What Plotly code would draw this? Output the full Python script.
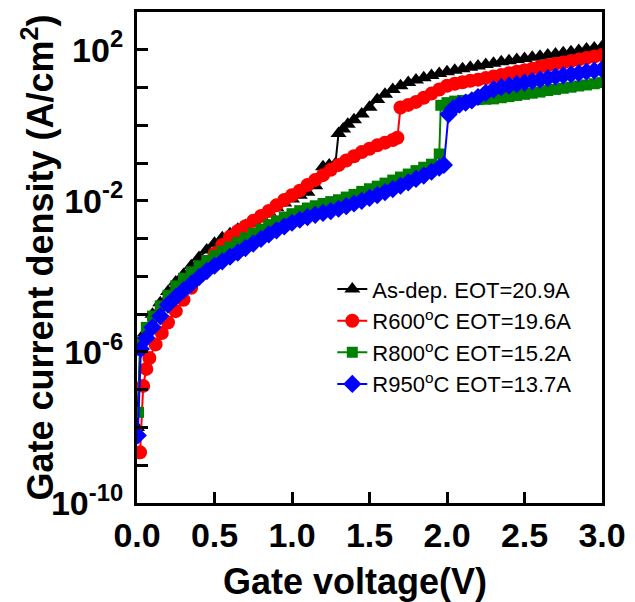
import plotly.graph_objects as go

# ---------------- data ----------------
asdep_v = [0.00, 0.02, 0.05, 0.10, 0.15, 0.20, 0.25, 0.30, 0.35, 0.40,
           0.45, 0.50, 0.55, 0.60, 0.65, 0.70, 0.75, 0.80, 0.85, 0.90,
           0.95, 1.00, 1.05, 1.10, 1.15, 1.18, 1.20, 1.24, 1.28, 1.30,
           1.33, 1.36, 1.40, 1.45, 1.50, 1.55, 1.60, 1.65, 1.70, 1.75,
           1.80, 1.85, 1.90, 1.95, 2.00, 2.05, 2.10, 2.15, 2.20, 2.25,
           2.30, 2.35, 2.40, 2.45, 2.50, 2.55, 2.60, 2.65, 2.70, 2.75,
           2.80, 2.85, 2.90, 2.95, 3.00]
asdep_j = [1.0e-8, 1.0e-6, 3.16e-6, 1.0e-5, 2.0e-5, 3.98e-5, 7.08e-5, 1.12e-4, 1.91e-4, 3.16e-4,
           5.01e-4, 7.59e-4, 1.05e-3, 1.35e-3, 1.78e-3, 2.24e-3, 2.95e-3, 3.8e-3, 5.01e-3, 6.61e-3,
           8.71e-3, 1.12e-2, 1.41e-2, 1.7e-2, 2.51e-2, 4.47e-2, 7.94e-2, 8.91e-2, 9.55e-2, 0.603,
           0.794, 1.07, 1.41, 2.0, 3.02, 4.79, 6.61, 8.91, 11.2, 13.5,
           15.8, 18.2, 20.9, 23.4, 26.3, 28.8, 31.6, 34.7, 37.2, 40.7,
           43.7, 47.9, 51.3, 55.0, 58.9, 63.1, 67.6, 72.4, 77.6, 83.2,
           89.1, 95.5, 105.0, 112.0, 120.0]

r600_v = [0.02, 0.04, 0.06, 0.08, 0.12, 0.16, 0.20, 0.25, 0.30, 0.35,
          0.40, 0.45, 0.50, 0.55, 0.60, 0.65, 0.70, 0.75, 0.80, 0.85,
          0.90, 0.95, 1.00, 1.05, 1.10, 1.15, 1.20, 1.25, 1.30, 1.35,
          1.40, 1.45, 1.50, 1.55, 1.60, 1.65, 1.68, 1.70, 1.75, 1.80,
          1.85, 1.90, 1.95, 2.00, 2.05, 2.10, 2.15, 2.20, 2.25, 2.30,
          2.35, 2.40, 2.45, 2.50, 2.55, 2.60, 2.65, 2.70, 2.75, 2.80,
          2.85, 2.90, 2.95, 3.00]
r600_j = [2.19e-9, 1.26e-7, 3.55e-7, 6.92e-7, 1.58e-6, 3.16e-6, 6.03e-6, 1.2e-5, 2.4e-5, 5.01e-5,
          1.0e-4, 2.09e-4, 3.98e-4, 6.76e-4, 1.12e-3, 1.58e-3, 2.14e-3, 2.95e-3, 3.98e-3, 5.37e-3,
          7.59e-3, 1.05e-2, 1.41e-2, 1.86e-2, 2.63e-2, 3.55e-2, 4.79e-2, 6.61e-2, 8.91e-2, 0.117,
          0.151, 0.195, 0.240, 0.295, 0.347, 0.407, 0.468, 2.95, 3.47, 4.17,
          5.37, 6.92, 8.91, 11.2, 12.6, 13.8, 15.1, 16.2, 17.8, 19.5,
          21.4, 24.0, 26.3, 28.8, 31.6, 35.5, 38.9, 42.7, 45.7, 50.1,
          55.0, 60.3, 66.1, 72.4]

r800_v = [0.01, 0.02, 0.06, 0.10, 0.15, 0.20, 0.25, 0.30, 0.35, 0.40,
          0.45, 0.50, 0.55, 0.60, 0.65, 0.70, 0.75, 0.80, 0.85, 0.90,
          0.95, 1.00, 1.05, 1.10, 1.15, 1.20, 1.25, 1.30, 1.35, 1.40,
          1.45, 1.50, 1.55, 1.60, 1.65, 1.70, 1.75, 1.80, 1.85, 1.90,
          1.95, 1.96, 2.00, 2.05, 2.10, 2.15, 2.20, 2.25, 2.30, 2.35,
          2.40, 2.45, 2.50, 2.55, 2.60, 2.65, 2.70, 2.75, 2.80, 2.85,
          2.90, 2.95, 3.00]
r800_j = [2.51e-8, 1.78e-6, 4.47e-6, 8.91e-6, 1.66e-5, 3.16e-5, 5.62e-5, 8.91e-5, 1.32e-4, 1.91e-4,
          2.63e-4, 3.55e-4, 4.68e-4, 6.03e-4, 7.94e-4, 1.05e-3, 1.38e-3, 1.78e-3, 2.34e-3, 2.95e-3,
          3.72e-3, 4.57e-3, 5.5e-3, 6.46e-3, 7.41e-3, 8.51e-3, 9.55e-3, 1.07e-2, 1.26e-2, 1.48e-2,
          1.78e-2, 2.09e-2, 2.45e-2, 2.95e-2, 3.55e-2, 4.27e-2, 5.13e-2, 6.31e-2, 7.76e-2, 9.33e-2,
          0.174, 3.39, 3.98, 4.37, 4.57, 4.68, 4.79, 4.9, 5.01, 5.37,
          5.75, 6.17, 6.61, 7.08, 7.59, 8.32, 8.91, 9.55, 10.2, 11.0,
          11.7, 12.6, 13.5]

r950_v = [0.005, 0.025, 0.06, 0.10, 0.15, 0.20, 0.25, 0.30, 0.35, 0.40,
          0.45, 0.50, 0.55, 0.60, 0.65, 0.70, 0.75, 0.80, 0.85, 0.90,
          0.95, 1.00, 1.05, 1.10, 1.15, 1.20, 1.25, 1.30, 1.35, 1.40,
          1.45, 1.50, 1.55, 1.60, 1.65, 1.70, 1.75, 1.80, 1.85, 1.90,
          1.95, 1.98, 2.01, 2.04, 2.08, 2.12, 2.16, 2.20, 2.25, 2.30,
          2.35, 2.40, 2.45, 2.50, 2.55, 2.60, 2.65, 2.70, 2.75, 2.80,
          2.85, 2.90, 2.95, 3.00]
r950_j = [6.17e-9, 1.2e-6, 2.34e-6, 4.47e-6, 8.91e-6, 1.78e-5, 2.82e-5, 4.27e-5, 6.31e-5, 9.55e-5,
          1.38e-4, 1.91e-4, 2.51e-4, 3.31e-4, 4.27e-4, 5.62e-4, 7.41e-4, 9.77e-4, 1.29e-3, 1.66e-3,
          2.09e-3, 2.63e-3, 3.16e-3, 3.72e-3, 4.27e-3, 4.79e-3, 5.37e-3, 6.17e-3, 7.24e-3, 8.51e-3,
          1.0e-2, 1.2e-2, 1.41e-2, 1.7e-2, 2.04e-2, 2.51e-2, 3.09e-2, 3.8e-2, 4.68e-2, 5.89e-2,
          7.59e-2, 8.91e-2, 1.95, 2.82, 3.55, 3.98, 4.57, 5.62, 7.24, 8.91,
          10.2, 11.2, 12.3, 13.5, 14.8, 16.2, 17.8, 19.5, 20.9, 22.4,
          24.0, 26.3, 28.2, 30.2]

series_names = ["As-dep. EOT=20.9A", "R600<sup>o</sup>C EOT=19.6A",
                "R800<sup>o</sup>C EOT=15.2A", "R950<sup>o</sup>C EOT=13.7A"]

x_tickvals = [0.0, 0.5, 1.0, 1.5, 2.0, 2.5, 3.0]
x_ticktext = ["0.0", "0.5", "1.0", "1.5", "2.0", "2.5", "3.0"]
y_tickvals = [1e-10, 1e-6, 1e-2, 1e2]
y_ticktext = ["10<sup>-10</sup>", "10<sup>-6</sup>", "10<sup>-2</sup>", "10<sup>2</sup>"]
y_minorvals = [1e-9, 1e-8, 1e-7, 1e-5, 1e-4, 1e-3, 1e-1, 1e0, 1e1]

# ---------------- figure ----------------
FONT = "Arial, Liberation Sans, Helvetica, sans-serif"
styles = [
    dict(color="#000000", symbol="triangle-up", size=14),
    dict(color="#ff0000", symbol="circle", size=14),
    dict(color="#008000", symbol="square", size=11),
    dict(color="#0000ff", symbol="diamond", size=14),
]
data = [(asdep_v, asdep_j), (r600_v, r600_j), (r800_v, r800_j), (r950_v, r950_j)]

fig = go.Figure()
for (vx, jy), name, st in zip(data, series_names, styles):
    fig.add_trace(go.Scatter(
        x=vx, y=jy, name=name, mode="lines+markers",
        line=dict(color=st["color"], width=2),
        marker=dict(color=st["color"], symbol=st["symbol"], size=st["size"],
                    line=dict(width=0)),
    ))

fig.update_layout(
    width=635, height=602,
    margin=dict(l=137, r=29, t=9, b=99),
    paper_bgcolor="white", plot_bgcolor="white",
    font=dict(family=FONT, color="black"),
    showlegend=True,
    legend=dict(x=0.42, y=0.478, xanchor="left", yanchor="top",
                bgcolor="rgba(0,0,0,0)", borderwidth=0,
                font=dict(family=FONT, size=22, color="black"),
                tracegroupgap=0),
    xaxis=dict(range=[0, 3.0], tickvals=x_tickvals, ticktext=x_ticktext,
               ticks="inside", ticklen=11, tickwidth=2.5, tickcolor="black",
               showline=True, linewidth=3, linecolor="black", mirror=True,
               showgrid=False, zeroline=False,
               tickfont=dict(family=FONT, size=34, weight="bold", color="black")),
    yaxis=dict(type="log", range=[-10, 3], tickvals=y_tickvals, ticktext=y_ticktext,
               ticks="inside", ticklen=11, tickwidth=2.5, tickcolor="black",
               minor=dict(tickvals=y_minorvals, ticks="inside", ticklen=11,
                          tickwidth=2.5, tickcolor="black", showgrid=False),
               showline=True, linewidth=3, linecolor="black", mirror=True,
               showgrid=False, zeroline=False, ticklabelstandoff=4,
               tickfont=dict(family=FONT, size=34, weight="bold", color="black")),
    annotations=[
        dict(text="Gate voltage(V)", xref="paper", yref="paper",
             x=0.469, y=-0.16, xanchor="center", yanchor="middle", showarrow=False,
             font=dict(family=FONT, size=36, weight="bold", color="black")),
        dict(text="Gate current density (A/cm<sup>2</sup>)", xref="paper", yref="paper",
             x=-0.215, y=0.5, xanchor="center", yanchor="middle", showarrow=False,
             textangle=-90,
             font=dict(family=FONT, size=36, weight="bold", color="black")),
    ],
)

fig.write_html("out.html")
